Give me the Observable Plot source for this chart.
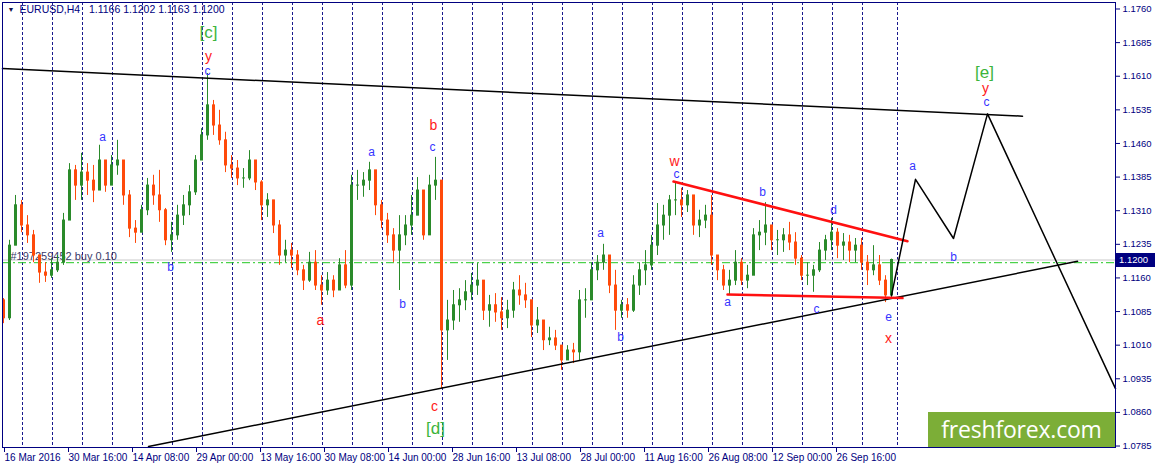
<!DOCTYPE html>
<html>
<head>
<meta charset="utf-8">
<script src="https://cdn.jsdelivr.net/npm/d3@7"></script>
<script src="https://cdn.jsdelivr.net/npm/@observablehq/plot@0.6"></script>
<style>
  body { margin: 0; background: #fff; }
  #chart { position: relative; width: 1155px; height: 468px; overflow: hidden; }
  #logo {
    position: absolute; left: 928px; top: 412px; width: 187px; height: 35px;
    background: #7cae37; color: #fff; font: 23px "Open Sans", sans-serif;
    line-height: 35px; text-align: center; letter-spacing: -0.2px;
  }
  #tag {
    position: absolute; left: 1116px; width: 39px; height: 14px;
    background: #000080; color: #fff; font: 9.5px "Liberation Sans", Arial, sans-serif;
    line-height: 14px; padding-left: 3px; box-sizing: border-box;
  }
</style>
</head>
<body>
<div id="chart"><div id="logo">freshforex.com</div><div id="tag"></div></div>
<script>
// EURUSD H4, one candle per 6 bars (bar index = pixel column of the original)
const firstBar = 3;
const barStep = 6;
const firstOpen = 1.1110;

const candleHigh = [
  1.1114,1.1244,1.1344,1.1333,1.1299,1.1266,1.1210,1.1194,1.1203,1.1210,
  1.1304,1.1415,1.1411,1.1438,1.1415,1.1411,1.1456,1.1422,1.1433,1.1467,
  1.1411,1.1355,1.1288,1.1322,1.1382,1.1389,1.1400,1.1315,1.1284,1.1322,
  1.1344,1.1366,1.1433,1.1493,1.1616,1.1556,1.1534,1.1485,1.1433,1.1422,
  1.1404,1.1444,1.1422,1.1377,1.1348,1.1333,1.1288,1.1244,1.1237,1.1221,
  1.1188,1.1217,1.1221,1.1165,1.1172,1.1165,1.1203,1.1221,1.1389,1.1400,
  1.1395,1.1418,1.1389,1.1333,1.1304,1.1270,1.1299,1.1299,1.1344,1.1384,
  1.1355,1.1389,1.1429,1.1377,1.1110,1.1132,1.1136,1.1154,1.1170,1.1192,
  1.1154,1.1121,1.1125,1.1116,1.1110,1.1150,1.1165,1.1148,1.1099,1.1094,
  1.1054,1.1050,1.1043,1.1009,1.1009,1.1014,1.1132,1.1136,1.1194,1.1210,
  1.1235,1.1194,1.1177,1.1110,1.1114,1.1165,1.1194,1.1221,1.1255,1.1326,
  1.1322,1.1344,1.1371,1.1360,1.1355,1.1344,1.1311,1.1322,1.1344,1.1210,
  1.1188,1.1177,1.1221,1.1203,1.1188,1.1270,1.1288,1.1328,1.1277,1.1266,
  1.1270,1.1284,1.1261,1.1210,1.1194,1.1188,1.1239,1.1255,1.1293,1.1270,
  1.1259,1.1255,1.1248,1.1248,1.1210,1.1232,1.1210,1.1165,1.1202
];
const candleLow = [
  1.1058,1.1065,1.1232,1.1261,1.1237,1.1194,1.1148,1.1150,1.1159,1.1172,
  1.1188,1.1299,1.1333,1.1333,1.1344,1.1328,1.1355,1.1351,1.1366,1.1389,
  1.1322,1.1250,1.1237,1.1261,1.1299,1.1322,1.1284,1.1232,1.1217,1.1244,
  1.1277,1.1299,1.1344,1.1422,1.1467,1.1478,1.1456,1.1395,1.1382,1.1366,
  1.1360,1.1377,1.1355,1.1288,1.1295,1.1259,1.1188,1.1194,1.1181,1.1165,
  1.1132,1.1150,1.1132,1.1099,1.1121,1.1116,1.1132,1.1136,1.1132,1.1333,
  1.1340,1.1355,1.1299,1.1270,1.1237,1.1194,1.1132,1.1232,1.1255,1.1299,
  1.1244,1.1266,1.1333,1.0913,1.0976,1.1043,1.1061,1.1087,1.1110,1.1121,
  1.1065,1.1050,1.1061,1.1043,1.1047,1.1070,1.1099,1.1092,1.1027,1.1036,
  1.0998,1.1009,1.0998,1.0954,1.0976,1.0969,1.0976,1.1070,1.1110,1.1154,
  1.1177,1.1125,1.1043,1.1070,1.1070,1.1083,1.1121,1.1143,1.1177,1.1210,
  1.1244,1.1255,1.1299,1.1295,1.1306,1.1255,1.1250,1.1270,1.1188,1.1154,
  1.1132,1.1123,1.1143,1.1143,1.1136,1.1177,1.1221,1.1232,1.1221,1.1210,
  1.1217,1.1221,1.1188,1.1154,1.1143,1.1128,1.1172,1.1199,1.1221,1.1203,
  1.1199,1.1194,1.1194,1.1177,1.1143,1.1165,1.1143,1.1105,1.1114
];
const candleClose = [
  1.1070,1.1232,1.1322,1.1277,1.1255,1.1210,1.1172,1.1165,1.1177,1.1194,
  1.1288,1.1400,1.1366,1.1395,1.1377,1.1355,1.1422,1.1366,1.1411,1.1422,
  1.1344,1.1270,1.1261,1.1311,1.1366,1.1344,1.1311,1.1244,1.1255,1.1299,
  1.1322,1.1351,1.1422,1.1478,1.1545,1.1500,1.1467,1.1411,1.1404,1.1382,
  1.1382,1.1422,1.1373,1.1322,1.1333,1.1277,1.1210,1.1221,1.1210,1.1177,
  1.1154,1.1194,1.1143,1.1132,1.1154,1.1132,1.1188,1.1143,1.1366,1.1366,
  1.1377,1.1400,1.1322,1.1288,1.1255,1.1221,1.1255,1.1277,1.1299,1.1355,
  1.1255,1.1366,1.1377,1.1043,1.1065,1.1099,1.1110,1.1128,1.1143,1.1154,
  1.1087,1.1099,1.1083,1.1070,1.1087,1.1132,1.1121,1.1110,1.1054,1.1065,
  1.1021,1.1025,1.1009,1.0976,1.0998,1.0994,1.1110,1.1110,1.1177,1.1194,
  1.1210,1.1143,1.1087,1.1099,1.1087,1.1143,1.1177,1.1188,1.1232,1.1277,
  1.1299,1.1333,1.1333,1.1322,1.1344,1.1277,1.1288,1.1299,1.1210,1.1177,
  1.1143,1.1154,1.1194,1.1154,1.1165,1.1255,1.1261,1.1277,1.1244,1.1244,
  1.1255,1.1239,1.1203,1.1165,1.1165,1.1177,1.1221,1.1244,1.1261,1.1232,
  1.1239,1.1221,1.1232,1.1194,1.1177,1.1188,1.1154,1.1121,1.1200
];

// week separators (bar index)
const weekBars = [22,52,82,112,142,172,202,232,262,292,322,352,382,412,442,
  472,502,532,562,592,622,652,682,712,742,772,802,832,862,897];

// axes
const xTickBars = [3,67,131,195,259,323,387,451,515,579,643,707,771,835];
const xTickLabels = ["16 Mar 2016","30 Mar 16:00","14 Apr 08:00","29 Apr 00:00",
  "13 May 16:00","30 May 08:00","14 Jun 00:00","28 Jun 16:00","13 Jul 08:00",
  "28 Jul 00:00","11 Aug 16:00","26 Aug 08:00","12 Sep 00:00","26 Sep 16:00"];
const yTicks = [1.1760,1.1685,1.1610,1.1535,1.1460,1.1385,1.1310,1.1235,1.1160,
  1.1085,1.1010,1.0935,1.0860,1.0785];
const yDomain = [1.07817, 1.17745];

const headerText = "EURUSD,H4\u00a0\u00a0 1.1166 1.1202 1.1163 1.1200";
const bidPrice = 1.1200;
const orderPrice = 1.1194;
const orderLabel = "#197259452 buy 0.10";

// trend lines [bar, price]
const resistanceBars = [2, 1022], resistancePrices = [1.1627, 1.1521];
const supportBars = [148, 1077], supportPrices = [1.0784, 1.1197];
const triTopBars = [673, 907], triTopPrices = [1.1375, 1.1242];
const triBottomBars = [727, 902], triBottomPrices = [1.1123, 1.1115];
const forecastBars = [891, 915, 953, 987, 1115];
const forecastPrices = [1.1121, 1.1380, 1.1248, 1.1526, 1.0913];

// wave labels: level 0 = [x] green, 1 = red, 2 = blue
const waveText = ["[c]","y","c","a","b","a","a","b","b","c","c","[d]","a","b",
  "w","c","b","d","a","c","e","x","a","b","[e]","y","c"];
const waveBar = [208,208,207,102,170,320,371,402,433,432,434,435,600,620,
  674,676,762,833,727,816,888,888,912,953,984,985,986];
const wavePrice = [1.1707,1.1655,1.1622,1.1474,1.1184,1.1064,1.1441,1.1102,
  1.1499,1.1452,1.0873,1.0824,1.1261,1.1028,1.1420,1.1391,1.1351,1.1312,
  1.1105,1.1090,1.1072,1.1024,1.1409,1.1206,1.1618,1.1582,1.1553];
const waveLevel = [0,1,2,2,2,1,2,2,1,2,1,0,2,2,1,2,2,2,2,2,2,1,2,2,0,1,2];

const navy = "#000080";
const upColor = "#2a8a2a";
const downColor = "#ff4a0a";
const levelColor = ["#3cb43c", "#ff1a1a", "#3535ff"];
const levelSize = [17, 14, 12];

const candles = candleClose.map((c, i) => ({
  bar: firstBar + i * barStep,
  open: i === 0 ? firstOpen : candleClose[i - 1],
  high: candleHigh[i],
  low: candleLow[i],
  close: c
}));
const up = candles.filter(d => d.close >= d.open);
const down = candles.filter(d => d.close < d.open);

const pairs = (bars, prices) => bars.map((b, i) => [b, prices[i]]);
const waves = waveText.map((t, i) => ({t, bar: waveBar[i], price: wavePrice[i], level: waveLevel[i]}));

function candleMarks(data, color) {
  return [
    Plot.ruleX(data, {x: "bar", y1: "low", y2: "high", stroke: color}),
    Plot.rect(data, {x1: d => d.bar - 1, x2: d => d.bar + 2, y1: "open", y2: "close",
      fill: color, insetTop: -0.5, insetBottom: -0.5})
  ];
}

const chart = Plot.plot({
  width: 1155,
  height: 468,
  marginLeft: 2,
  marginRight: 40,
  marginTop: 2,
  marginBottom: 21,
  style: {fontFamily: "'Liberation Sans', Arial, sans-serif", background: "white", overflow: "visible"},
  x: {type: "linear", domain: [2, 1115], label: null},
  y: {domain: yDomain, label: null},
  marks: [
    Plot.ruleX(weekBars, {stroke: navy, strokeDasharray: "3,2", strokeWidth: 0.9}),
    Plot.ruleY([bidPrice], {stroke: "#c8c8c8"}),
    Plot.ruleY([orderPrice], {stroke: "#22c822", strokeDasharray: "8,3,2,3"}),
    Plot.text([{t: orderLabel, p: orderPrice}], {y: "p", text: "t", frameAnchor: "left",
      dx: 8, dy: -6, textAnchor: "start", fill: "#3a3a6a", fontSize: 11}),
    ...candleMarks(up, upColor),
    ...candleMarks(down, downColor),
    Plot.line(pairs(resistanceBars, resistancePrices), {stroke: "black"}),
    Plot.line(pairs(supportBars, supportPrices), {stroke: "black"}),
    Plot.line(pairs(triTopBars, triTopPrices), {stroke: "#ff1010", strokeWidth: 2.5}),
    Plot.line(pairs(triBottomBars, triBottomPrices), {stroke: "#ff1010", strokeWidth: 2.5}),
    Plot.line(pairs(forecastBars, forecastPrices), {stroke: "black"}),
    ...[0, 1, 2].map(lv => Plot.text(waves.filter(d => d.level === lv), {
      x: "bar", y: "price", text: "t", fill: levelColor[lv], fontSize: levelSize[lv]
    })),
    Plot.text(["\u25bc"], {frameAnchor: "top-left", dx: 5, dy: 5, fontSize: 7, fill: "#10104a", textAnchor: "start"}),
    Plot.text([headerText], {frameAnchor: "top-left", dx: 17, dy: 3, fontSize: 10.5, fill: navy, textAnchor: "start"}),
    Plot.axisX(xTickBars, {anchor: "bottom", tickFormat: d => xTickLabels[xTickBars.indexOf(d)],
      textAnchor: "start", dx: 1, tickSize: 5, tickPadding: 1, color: navy, fontSize: 10}),
    Plot.axisY(yTicks, {anchor: "right", tickFormat: d => d.toFixed(4), tickSize: 4,
      tickPadding: 3, color: navy, fontSize: 9.5}),
    Plot.frame({stroke: navy})
  ]
});

const box = document.getElementById("chart");
box.insertBefore(chart, box.firstChild);
const tag = document.getElementById("tag");
tag.textContent = bidPrice.toFixed(4);
tag.style.top = (chart.scale("y").apply(bidPrice) - 7) + "px";
</script>
</body>
</html>
